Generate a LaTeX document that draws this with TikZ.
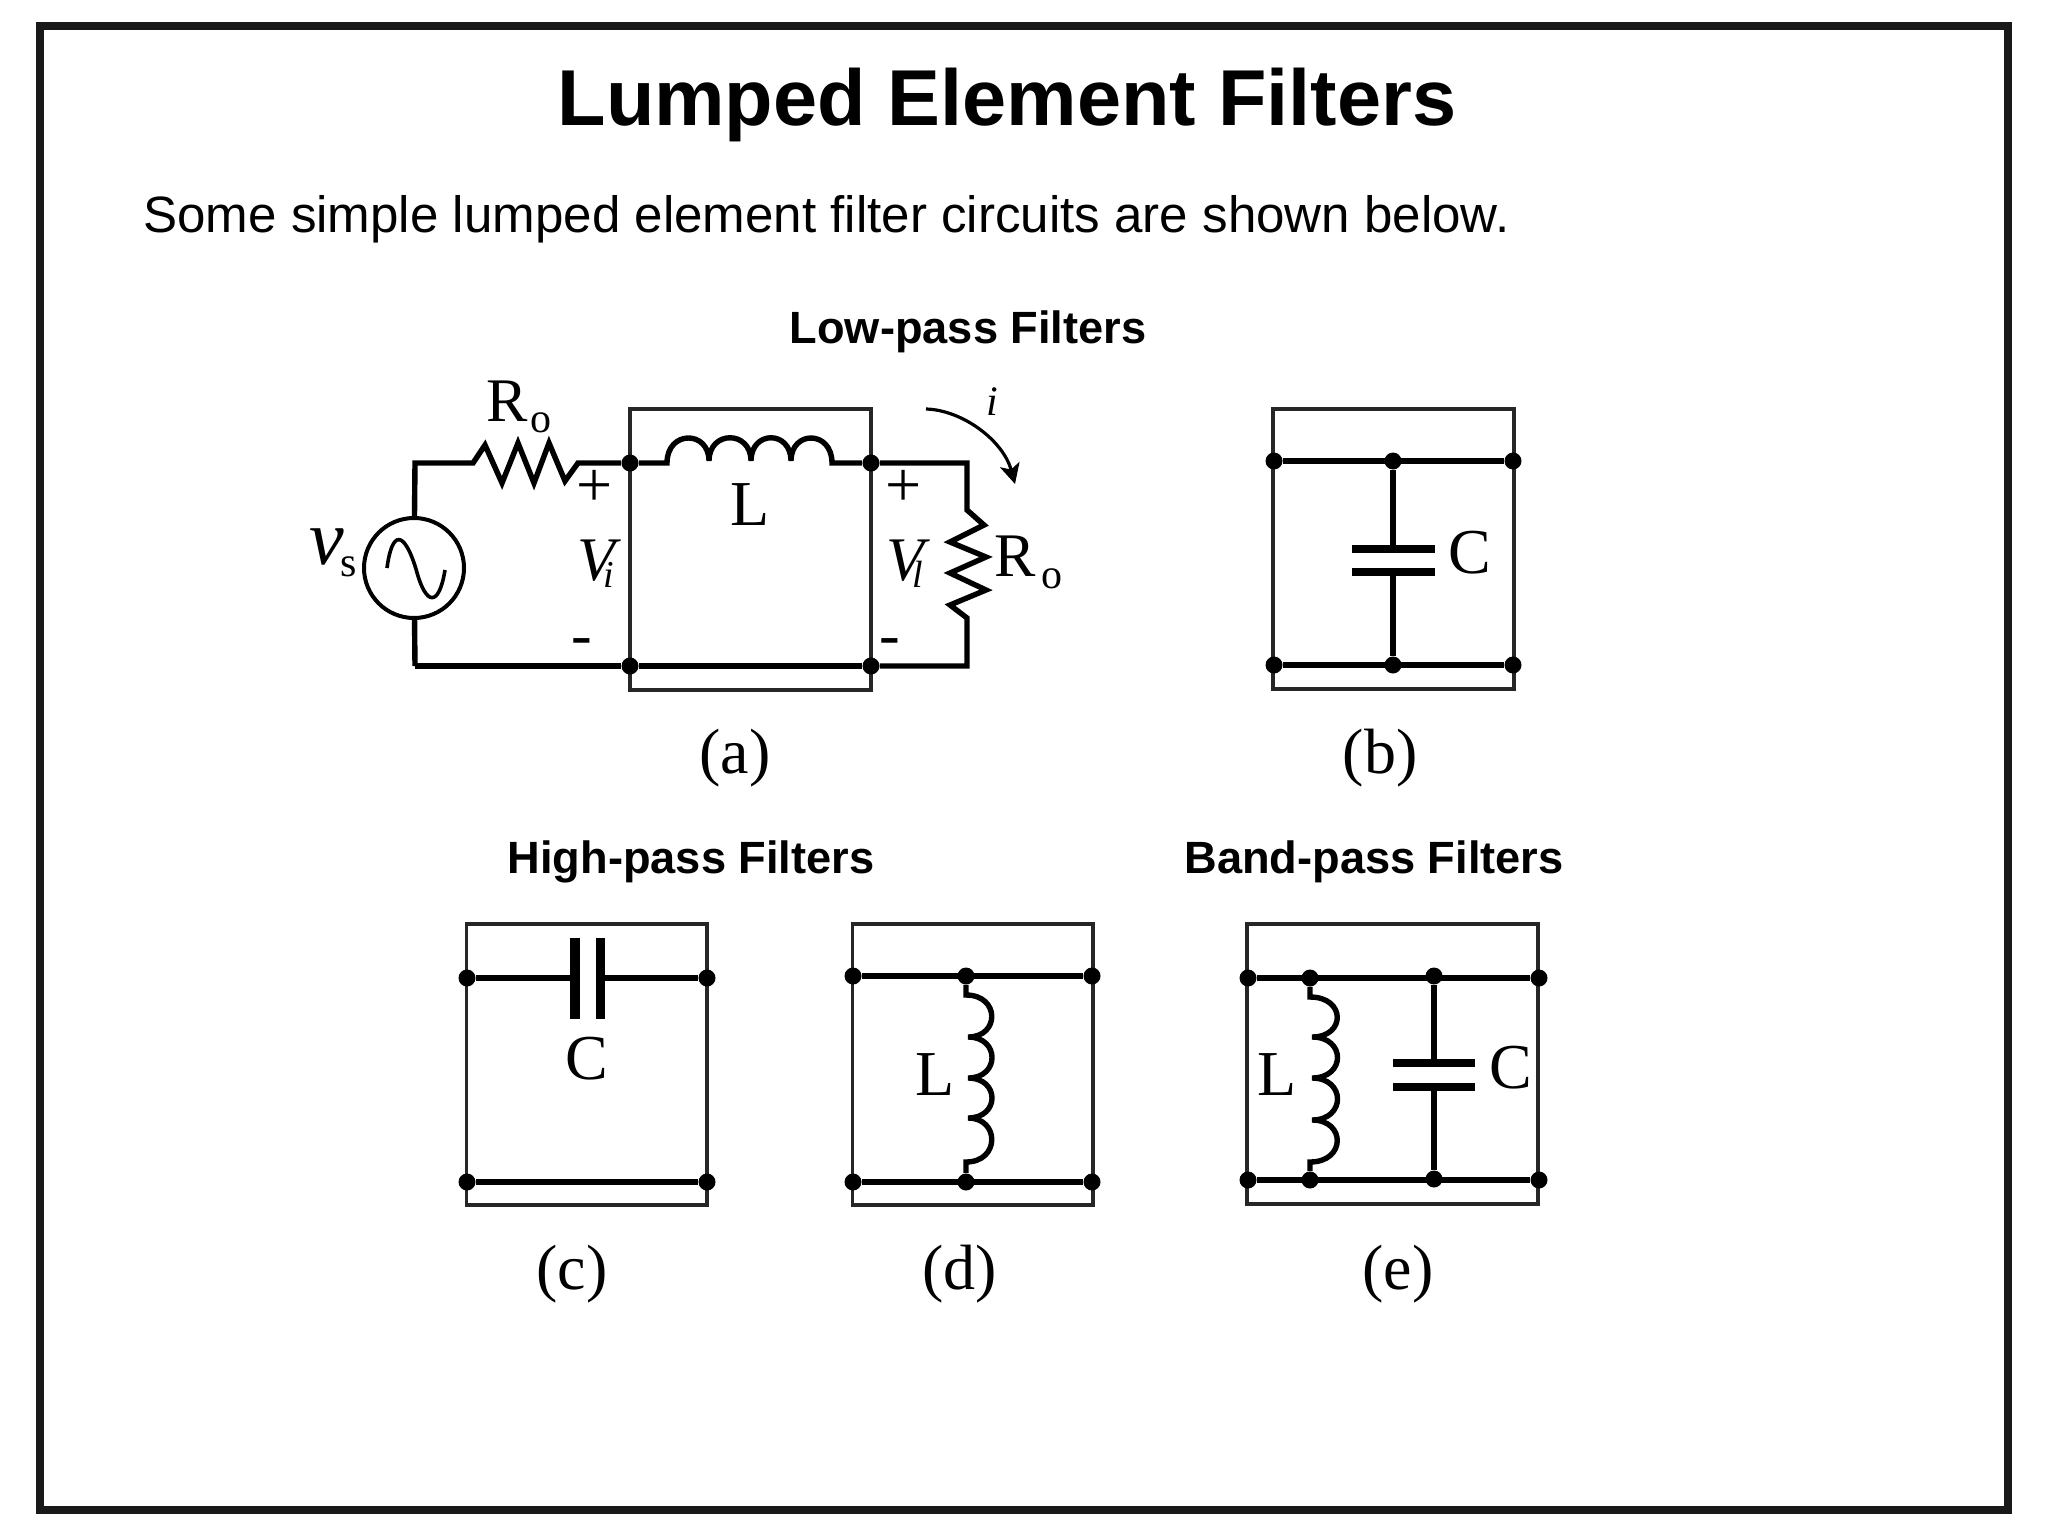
\documentclass[tikz,border=0pt]{standalone}
\usepackage{fontspec}
\setmainfont{Liberation Sans}
\newfontfamily\serf{Liberation Serif}
\usetikzlibrary{arrows.meta}
\newcommand{\fs}[1]{\fontsize{#1}{#1}\selectfont}
\newcommand{\vsub}[1]{V\kern-6.2pt\raisebox{-3.5pt}{\fs{19}#1}}
\tikzset{
  frame/.style={draw=black!90,line width=4.25pt},
  box/.style={draw=black!85,line width=1.7pt},
  wire/.style={draw=black,line width=2.7pt,line join=miter},
  hwire/.style={draw=black,line width=3.2pt},
  plate/.style={draw=black,line width=3.6pt},
  dot/.style={circle,fill=black,inner sep=0pt,minimum size=8.5pt},
  big/.style={inner sep=0pt,font=\serf\fs{31}},
  sub/.style={inner sep=0pt,font=\serf\fs{21}},
  ital/.style={inner sep=0pt,anchor=base west,font=\serf\itshape\fs{31}},
  lab/.style={inner sep=0pt,font=\serf\fs{32}},
  head/.style={inner sep=0pt,font=\bfseries\fs{22.6}},
}
\begin{document}
\begin{tikzpicture}[x=0.5pt,y=-0.5pt]
\useasboundingbox (0,0) rectangle (2048,1536);
\draw[frame] (40,26) rectangle (2008,1510);
% headings
\node[inner sep=0pt,font=\bfseries\fs{39.65}] (title) at (1007,105) {Lumped Element Filters};
\node[inner sep=0pt,anchor=west,font=\fs{25.55}] (intro) at (143,219) {Some simple lumped element filter circuits are shown below.};
\node[head] (lp) at (968,332) {Low-pass Filters};
\node[head] (hp) at (691,862) {High-pass Filters};
\node[head] (bp) at (1374,862) {Band-pass Filters};
% ---------- (a)
\draw[box] (630,409) rectangle (871,690);
\node[dot] (a1) at (630,463) {};
\node[dot] (a2) at (871,463) {};
\node[dot] (a3) at (630,666) {};
\node[dot] (a4) at (871,666) {};
\node[circle,draw=black,line width=2pt,minimum size=50pt,inner sep=0pt] (src) at (414,568) {};
\coordinate (tl) at (415,463);
\coordinate (tr) at (967,463);
\coordinate (bl) at (415,666);
\coordinate (br) at (967,666);
\coordinate (r1a) at (473,463);
\coordinate (r1b) at (578,463);
\coordinate (la) at (667,463);
\coordinate (lb) at (832,463);
\coordinate (r2a) at (967,510);
\coordinate (r2b) at (967,618);
\draw[wire] (src) -- (tl) -- (r1a) -- (485,445) -- (502,483) -- (518,443) -- (534,483) -- (549,443) -- (565,481) -- (r1b) -- (a1);
\draw[wire] (a1) -- (la) .. controls (667,430) and (709,430) .. (709,461)
   .. controls (709,430) and (751,430) .. (751,461)
   .. controls (751,430) and (791,430) .. (791,461)
   .. controls (791,430) and (832,430) .. (lb) -- (a2);
\draw[wire] (a2) -- (tr) -- (r2a) -- (984,525) -- (950,542) -- (986,557) -- (950,573) -- (986,590) -- (950,605) -- (r2b) -- (br) -- (a4);
\draw[hwire] (a4) -- (a3) -- (bl);
\draw[wire] (bl) -- (src);
\draw[line width=1.8pt] (387,568) .. controls (392,530) and (404,530) .. (416,569) .. controls (426,607) and (439,607) .. (445,570);
\draw[line width=1.6pt,-{Stealth[length=10pt,width=10pt,inset=2.5pt]}] (926,409) .. controls (962,410) and (1003,440) .. (1015,484);
\node[big] (ra) at (507,401) {R};
\node[sub] (rao) at (541,423) {o};
\node[inner sep=0pt,font=\serf\itshape\fs{39}] (vs) at (327,547) {v};
\node[sub] (vss) at (349,567) {s};
\node[ital] (vi) at (577.5,580) {\vsub{i}};
\node[ital] (vl) at (886.5,580) {\vsub{l}};
\node[big] (rb) at (1015,556) {R};
\node[sub] (rbo) at (1052,579) {o};
\node[big,font=\serf\fs{32}] (pl1) at (595,488) {+};
\node[big,font=\serf\fs{32}] (pl2) at (904,488) {+};
\node[big] (mi1) at (582,647) {-};
\node[big] (mi2) at (890,647) {-};
\node[inner sep=0pt,font=\serf\itshape\fs{21}] (ii) at (992,402) {i};
\node[lab] (La) at (750,505) {L};
\node[lab] (capa) at (735,758) {(a)};
% ---------- (b)
\draw[box] (1273,409) rectangle (1514,689);
\node[dot] (b1) at (1274,461) {};
\node[dot] (b2) at (1393,461) {};
\node[dot] (b3) at (1513,461) {};
\node[dot] (b4) at (1274,665) {};
\node[dot] (b5) at (1393,665) {};
\node[dot] (b6) at (1513,665) {};
\coordinate (bc1) at (1393,549);
\coordinate (bc2) at (1393,572);
\draw[hwire] (b1) -- (b3);
\draw[wire] (b4) -- (b6);
\draw[wire] (b2) -- (bc1);
\draw[wire] (b5) -- (bc2);
\draw[plate] (1352,549) -- (1435,549);
\draw[plate] (1352,572) -- (1435,572);
\node[lab] (Cb) at (1470,553) {C};
\node[lab] (capb) at (1380,758) {(b)};
% ---------- (c)
\draw[box] (466.5,924) rectangle (707,1205);
\node[dot] (c1) at (467,978) {};
\node[dot] (c2) at (707,978) {};
\node[dot] (c3) at (467,1182) {};
\node[dot] (c4) at (707,1182) {};
\coordinate (cc1) at (575,978);
\coordinate (cc2) at (600.5,978);
\draw[wire] (c1) -- (cc1);
\draw[wire] (cc2) -- (c2);
\draw[hwire] (c3) -- (c4);
\draw[plate,line width=4.6pt] (575,938) -- (575,1019);
\draw[plate,line width=4.6pt] (600.5,938) -- (600.5,1019);
\node[lab] (Cc) at (586.5,1059) {C};
\node[lab] (capc) at (572,1274) {(c)};
% ---------- (d)
\draw[box] (852.5,924) rectangle (1093,1205);
\node[dot] (d1) at (853,976) {};
\node[dot] (d2) at (966,976) {};
\node[dot] (d3) at (1092,976) {};
\node[dot] (d4) at (853,1182) {};
\node[dot] (d5) at (966,1182) {};
\node[dot] (d6) at (1092,1182) {};
\draw[hwire] (d1) -- (d3);
\draw[hwire] (d4) -- (d6);
\draw[wire] (d2) -- (966,995) .. controls (1000,995) and (1000,1037) .. (968,1037)
   .. controls (1000,1037) and (1000,1078) .. (968,1078)
   .. controls (1000,1078) and (1000,1118) .. (968,1118)
   .. controls (1000,1118) and (1000,1162) .. (966,1162) -- (d5);
\node[lab] (Ld) at (935,1075) {L};
\node[lab] (capd) at (959.5,1274) {(d)};
% ---------- (e)
\draw[box] (1247,924) rectangle (1538,1204);
\node[dot] (e1) at (1248,978) {};
\node[dot] (e2) at (1310,978) {};
\node[dot] (e3) at (1434,976) {};
\node[dot] (e4) at (1539,978) {};
\node[dot] (e5) at (1248,1180) {};
\node[dot] (e6) at (1310,1180) {};
\node[dot] (e7) at (1434,1179) {};
\node[dot] (e8) at (1539,1180) {};
\coordinate (ec1) at (1434,1063);
\coordinate (ec2) at (1434,1087);
\draw[hwire] (e1) -- (e4);
\draw[wire] (e5) -- (e8);
\draw[wire] (e3) -- (ec1);
\draw[wire] (e7) -- (ec2);
\draw[plate] (1393,1063) -- (1475,1063);
\draw[plate] (1393,1087) -- (1475,1087);
\draw[wire] (e2) -- (1310,997) .. controls (1346,997) and (1346,1037) .. (1312,1037)
   .. controls (1346,1037) and (1346,1078) .. (1312,1078)
   .. controls (1346,1078) and (1346,1120) .. (1312,1120)
   .. controls (1346,1120) and (1346,1162) .. (1310,1162) -- (e6);
\node[lab] (Le) at (1277,1075) {L};
\node[lab] (Ce) at (1511,1068) {C};
\node[lab] (cape) at (1398,1274) {(e)};
\end{tikzpicture}
\end{document}
